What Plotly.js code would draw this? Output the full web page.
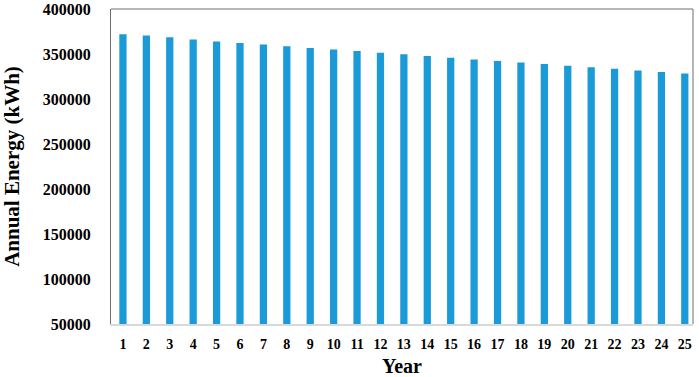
<!DOCTYPE html>
<html>
<head>
<meta charset="utf-8">
<script src="https://cdn.plot.ly/plotly-3.0.1.min.js"></script>
<style>html,body{margin:0;padding:0;background:#fff;}#chart{width:699px;height:377px;}</style>
</head>
<body>
<div id="chart"></div>
<script>
const years = [1,2,3,4,5,6,7,8,9,10,11,12,13,14,15,16,17,18,19,20,21,22,23,24,25];
const energy = [372000,370500,368500,366000,364000,362200,360600,358600,356800,355000,353300,351500,349700,347800,345900,344000,342200,340600,338900,337000,335200,333600,331800,330000,328200];
const yTicks = [50000,100000,150000,200000,250000,300000,350000,400000];

const font = 'Liberation Serif, Times New Roman, serif';
const trace = {
  type: 'bar',
  x: years,
  y: energy,
  marker: {color: '#1a9ad6'},
  width: 0.31,
  hoverinfo: 'none'
};
const layout = {
  width: 699, height: 377,
  margin: {l: 111, r: 6, t: 9, b: 53},
  paper_bgcolor: '#fff', plot_bgcolor: '#fff',
  showlegend: false,
  font: {family: font, color: '#000'},
  xaxis: {
    range: [0.49, 25.35],
    tickmode: 'array', tickvals: years, ticktext: years.map(String),
    tickfont: {family: font, size: 14, weight: 'bold', color: '#000'},
    showgrid: false, zeroline: false,
    showline: true, linecolor: '#d9d9d9', linewidth: 1.5,
    ticks: '', ticklabelstandoff: 7,
    title: {text: 'Year', font: {family: font, size: 20, weight: 'bold', color: '#000'}, standoff: 10}
  },
  yaxis: {
    range: [50000, 400000],
    tickmode: 'array', tickvals: yTicks, ticktext: yTicks.map(String),
    tickfont: {family: font, size: 16, weight: 'bold', color: '#000'},
    showgrid: false, zeroline: false,
    showline: true, linecolor: '#6e6e6e', linewidth: 1,
    ticks: '', ticklabelstandoff: 16,
    title: {text: 'Annual Energy (kWh)', font: {family: font, size: 21, weight: 'bold', color: '#000'}, standoff: 18}
  },
  shapes: [
    {type: 'line', xref: 'paper', yref: 'paper', x0: 0, x1: 1, y0: 1, y1: 1, line: {color: '#6e6e6e', width: 1}},
    {type: 'line', xref: 'paper', yref: 'paper', x0: 1, x1: 1, y0: 0, y1: 1, line: {color: '#6e6e6e', width: 1}}
  ]
};
Plotly.newPlot('chart', [trace], layout, {displayModeBar: false, staticPlot: true});
</script>
</body>
</html>
